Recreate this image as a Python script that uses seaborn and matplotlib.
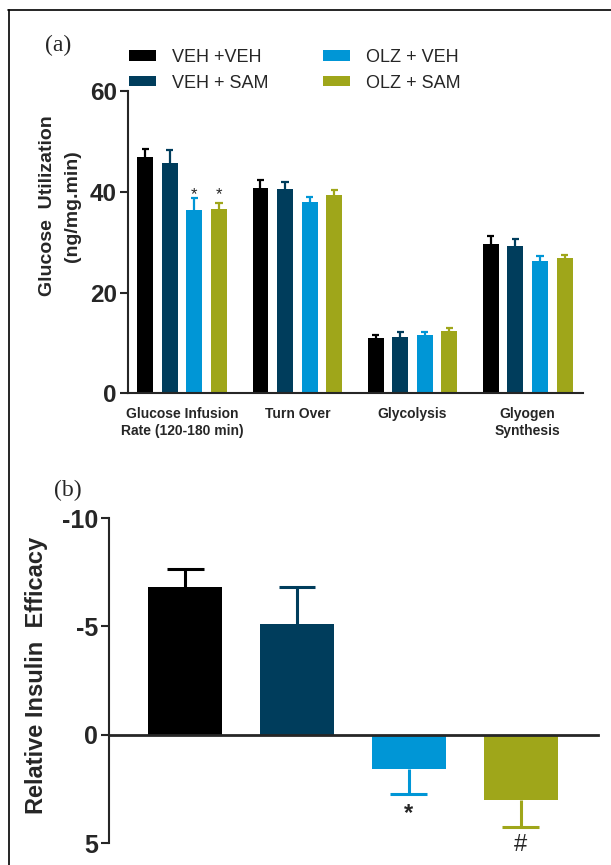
import numpy as np
import pandas as pd
import matplotlib
matplotlib.use("Agg")
import matplotlib.pyplot as plt
from matplotlib.lines import Line2D
import seaborn as sns

# datos del panel (a)
categorias = ["Glucose Infusion\nRate (120-180 min)", "Turn Over", "Glycolysis", "Glyogen\nSynthesis"]
grupos = ["VEH +VEH", "VEH + SAM", "OLZ + VEH", "OLZ + SAM"]
colores = ["#000000", "#003d5c", "#0096d6", "#9fa61a"]

media_veh_veh = [46.9, 40.8, 11.0, 29.7]
media_veh_sam = [45.7, 40.5, 11.3, 29.3]
media_olz_veh = [36.4, 37.9, 11.6, 26.2]
media_olz_sam = [36.5, 39.3, 12.4, 26.9]

err_veh_veh = [1.5, 1.6, 0.6, 1.5]
err_veh_sam = [2.5, 1.5, 0.8, 1.4]
err_olz_veh = [2.3, 1.1, 0.6, 1.0]
err_olz_sam = [1.3, 1.1, 0.6, 0.6]

# marcas de significancia panel (a): (grupo, categoria, simbolo)
marcas_a = [("OLZ + VEH", 0, "*"), ("OLZ + SAM", 0, "*")]

# datos del panel (b)
eficacia = [-6.8, -5.1, 1.6, 3.0]
err_eficacia = [0.85, 1.7, 1.15, 1.25]
marcas_b = ["", "", "*", "#"]

medias = [media_veh_veh, media_veh_sam, media_olz_veh, media_olz_sam]
errores = [err_veh_veh, err_veh_sam, err_olz_veh, err_olz_sam]

filas = []
for g, m, e in zip(grupos, medias, errores):
    for c, v, ev in zip(categorias, m, e):
        filas.append({"Categoria": c, "Grupo": g, "Valor": v, "Error": ev})
df_a = pd.DataFrame(filas)
df_b = pd.DataFrame({"Grupo": grupos, "Eficacia": eficacia, "Error": err_eficacia})

sns.set_theme(style="ticks")
plt.rcParams["font.family"] = ["Liberation Sans", "DejaVu Sans"]
plt.rcParams["axes.linewidth"] = 1.5
plt.rcParams["axes.unicode_minus"] = False

fig = plt.figure(figsize=(6.11, 8.65), dpi=100)
ax1 = fig.add_axes([0.2095, 0.5451, 0.7447, 0.3497])
ax2 = fig.add_axes([0.1784, 0.0254, 0.8003, 0.3757])

paleta = dict(zip(grupos, colores))


def barra_error(ax, barra, ev, color, frac, lw):
    # barra de error de un solo lado, alejandose del cero
    xc = barra.get_x() + barra.get_width() / 2
    val = barra.get_height()
    fin = val + np.sign(val) * ev
    media_cap = barra.get_width() * frac / 2
    ax.vlines(xc, val, fin, color=color, lw=lw)
    ax.hlines(fin, xc - media_cap, xc + media_cap, color=color, lw=lw)
    return xc, fin


# ---- panel (a)
sns.barplot(data=df_a, x="Categoria", y="Valor", hue="Grupo", order=categorias,
            hue_order=grupos, palette=paleta, saturation=1, errorbar=None,
            width=0.853, gap=0.35, linewidth=0, ax=ax1)

for cont, g, e in zip(ax1.containers, grupos, errores):
    for barra, ev in zip(cont, e):
        barra_error(ax1, barra, ev, paleta[g], 0.45, 1.6)

for g, i, s in marcas_a:
    barra = ax1.containers[grupos.index(g)][i]
    xc = barra.get_x() + barra.get_width() / 2
    y = max(errores[grupos.index(gg)][i] + medias[grupos.index(gg)][i] for gg, ii, _ in marcas_a if ii == i)
    ax1.text(xc, y - 0.8, s, ha="center", va="bottom", fontsize=12)

handles, labels = ax1.get_legend_handles_labels()
if ax1.get_legend() is not None:
    ax1.get_legend().remove()
fig.legend(handles, labels, ncol=2, loc="upper left", bbox_to_anchor=(129 / 611, 1 - 49 / 865),
           frameon=False, borderpad=0, borderaxespad=0, handlelength=1.5, handleheight=0.5,
           handletextpad=0.9, columnspacing=3.0, labelspacing=0.48,
           prop={"size": 13})

ax1.set_xlim(-0.47, 3.48)
ax1.set_ylim(0, 60)
ax1.set_yticks([0, 20, 40, 60])
ax1.set_xlabel("")
ax1.set_ylabel("Glucose  Utilization\n(ng/mg.min)", fontsize=14, fontweight="bold", linespacing=1.6)
ax1.yaxis.set_label_coords(-0.103, 0.62)
ax1.tick_params(axis="y", length=6, width=1.5, labelsize=17.5, pad=2)
ax1.tick_params(axis="x", length=0, pad=10, labelsize=10)
for t in ax1.get_yticklabels() + ax1.get_xticklabels():
    t.set_fontweight("bold")
sns.despine(ax=ax1)

# ---- panel (b)
sns.barplot(data=df_b, x="Grupo", y="Eficacia", hue="Grupo", order=grupos, hue_order=grupos,
            palette=paleta, saturation=1, errorbar=None, width=0.66, linewidth=0,
            legend=False, ax=ax2)

for cont, g, ev, s in zip(ax2.containers, grupos, err_eficacia, marcas_b):
    xc, fin = barra_error(ax2, cont[0], ev, paleta[g], 0.5, 2.2)
    if s:
        ax2.text(xc, fin + 0.35, s, ha="center", va="top", fontsize=17,
                 fontweight="bold" if s == "*" else "normal", clip_on=False)

ax2.set_xlim(-0.68, 3.69)
ax2.set_ylim(5, -10)
ax2.set_yticks([-10, -5, 0, 5])
ax2.set_xticks([])
ax2.set_xlabel("")
ax2.set_ylabel("Relative Insulin  Efficacy", fontsize=17, fontweight="bold")
ax2.yaxis.set_label_coords(-0.125, 0.517)
ax2.spines["bottom"].set_position(("data", 0))
ax2.spines["bottom"].set_linewidth(2)
ax2.spines["top"].set_visible(False)
ax2.spines["right"].set_visible(False)
ax2.tick_params(axis="y", length=6, width=1.5, labelsize=18, pad=2)
for t in ax2.get_yticklabels():
    t.set_fontweight("bold")

# etiquetas de panel y marco
fig.text(45 / 611, 1 - 45 / 865, "(a)", family="Liberation Serif", fontsize=17, va="center")
fig.text(54 / 611, 1 - 490 / 865, "(b)", family="Liberation Serif", fontsize=17, va="center")
fig.add_artist(Line2D([8 / 611, 1], [1 - 10 / 865] * 2, transform=fig.transFigure, color="black", lw=1.2))
fig.add_artist(Line2D([9 / 611, 9 / 611], [0, 1 - 10 / 865], transform=fig.transFigure, color="black", lw=1.2))

fig.savefig("out.png", dpi=100)
